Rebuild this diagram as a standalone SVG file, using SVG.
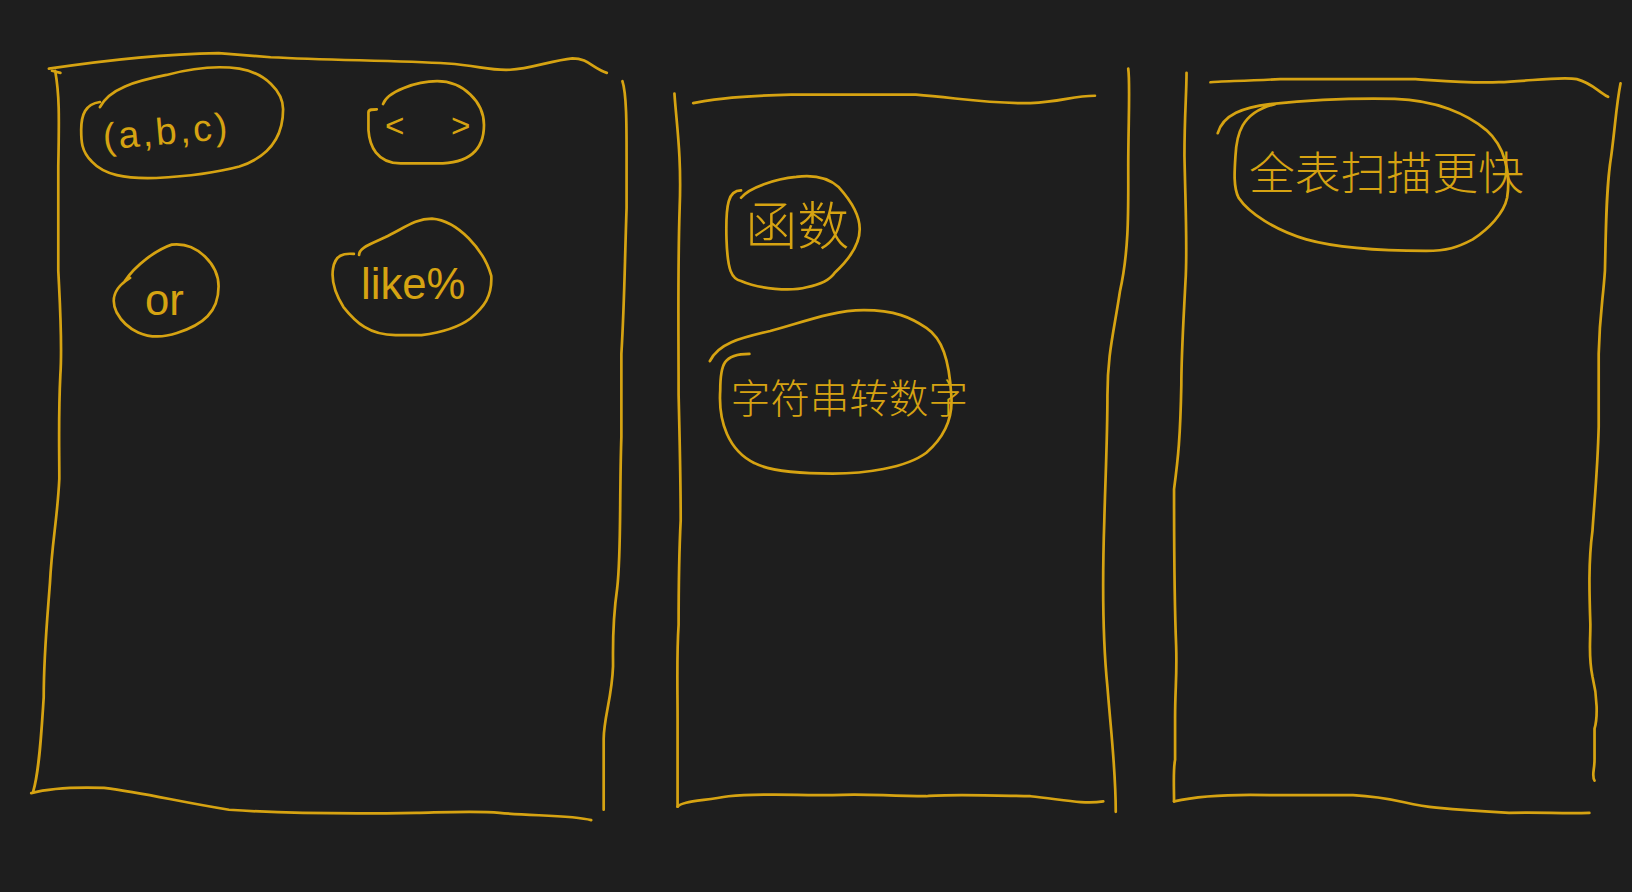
<svg xmlns="http://www.w3.org/2000/svg" width="1632" height="892" viewBox="0 0 1632 892">
<style>
.s{fill:none;stroke:#d6a312;stroke-width:2.6;stroke-linecap:round;stroke-linejoin:round}
.t{fill:#d6a312;font-family:"Liberation Sans","Noto Sans CJK SC",sans-serif;text-anchor:middle;dominant-baseline:central}
.c{font-family:"Noto Sans CJK SC","Noto Sans CJK JP",sans-serif;font-weight:300}
</style>
<rect width="1632" height="892" fill="#1e1e1e"/>
<g transform="scale(1.04082)">
<g id="frames">
<g id="col1">
<path class="s" d="M47,66 C100,58 150,52 210,51 L260,55 C320,58 380,58 430,61 C460,63 470,68 490,67 C510,66 530,58 550,56 C565,56 570,66 583,70"/>
<path class="s" d="M50,68 L58,70 M53,68 C57,90 57,110 56,160 L56,260 C58,300 60,330 58,360 C56,400 57,430 57,460 C55,500 50,520 48,560 C45,600 42,630 42,670 C40,700 38,740 32,760"/>
<path class="s" d="M30,762 C45,758 70,756 100,757 C140,762 170,770 220,778 C280,782 340,782 400,781 C440,780 460,779 480,781 C510,784 550,783 568,788"/>
<path class="s" d="M598,78 C602,90 602,120 602,150 L602,200 C600,260 600,290 597,340 L597,420 C595,480 597,530 593,565 C588,600 589,620 589,640 C588,670 580,690 580,710 L580,778"/>
</g>
<g id="col2">
<path class="s" d="M666,99 C690,95 710,92 760,91 L880,91 C920,94 950,100 990,99 C1020,98 1030,92 1052,92"/>
<path class="s" d="M648,90 C650,120 655,150 653,200 C651,260 652,320 652,380 C653,420 654,460 654,500 C652,540 652,570 652,600 C650,630 651,660 651,690 L651,775"/>
<path class="s" d="M651,775 C655,770 670,770 700,765 C730,762 760,764 800,764 C830,762 850,765 890,765 C910,763 940,764 990,765 C1020,768 1040,773 1060,770"/>
<path class="s" d="M1084,66 C1086,80 1084,120 1084,160 C1084,200 1085,240 1076,280 C1070,320 1064,340 1064,380 C1064,420 1062,460 1061,500 C1059,560 1060,620 1064,660 C1068,710 1072,740 1072,780"/>
</g>
<g id="col3">
<path class="s" d="M1163,79 C1170,78 1190,78 1230,76 L1360,76 C1390,78 1410,80 1440,79 C1470,78 1500,73 1515,76 C1530,80 1535,88 1545,93"/>
<path class="s" d="M1140,70 C1140,90 1138,110 1138,150 C1139,200 1141,240 1139,270 C1137,310 1135,340 1135,370 C1134,420 1132,440 1128,470 C1128,520 1128,570 1130,620 C1131,650 1129,660 1129,690 L1129,730 C1127,740 1128,755 1128,770"/>
<path class="s" d="M1128,770 C1150,765 1180,763 1220,764 L1300,764 C1340,766 1350,773 1380,776 C1410,779 1430,780 1450,781 C1480,780 1500,782 1527,781"/>
<path class="s" d="M1557,80 C1553,100 1552,120 1548,150 C1543,180 1543,220 1542,260 C1540,290 1537,300 1536,340 L1536,410 C1535,450 1532,480 1530,510 C1526,540 1527,570 1528,600 C1528,620 1526,630 1530,650 C1535,670 1535,690 1532,700 L1532,730 C1532,740 1529,745 1532,750"/>
</g>
</g>
<g id="n-abc">
<path class="s" d="M96,103 C105,85 130,78 160,72 C190,64 210,63 230,66 C255,70 272,88 272,105 C272,130 260,150 230,160 C200,168 170,170 150,171 C120,172 100,168 88,155 C78,145 78,135 78,125 C78,110 82,100 96,98"/>
<text class="t" x="160" y="126" font-size="36" letter-spacing="3" transform="rotate(-5 160 126)">(a,b,c)</text>
</g>
<g id="n-ne">
<path class="s" d="M368,100 C372,88 400,78 420,78 C445,78 465,98 465,120 C465,145 450,157 420,157 L385,157 C362,157 355,140 354,125 L354,108 C354,105 358,105 362,105"/>
<text class="t" x="420" y="121" font-size="32" letter-spacing="18">&lt; &gt;</text>
</g>
<g id="n-or">
<path class="s" d="M120,270 C130,255 150,240 165,235 C190,232 210,255 210,275 C210,300 195,312 170,320 C140,330 120,315 112,300 C105,285 112,275 125,267"/>
<text class="t" x="158" y="288" font-size="42">or</text>
</g>
<g id="n-like">
<path class="s" d="M345,245 C345,238 355,235 370,228 C390,218 400,210 415,210 C440,212 465,240 472,265 C473,285 465,295 452,306 C440,315 420,320 405,322 L380,322 C355,322 342,310 330,295 C322,282 318,270 320,258 C322,245 330,243 340,244"/>
<text class="t" x="397" y="272" font-size="42">like%</text>
</g>
<g id="n-func">
<path class="s" d="M712,183 C700,183 697,195 698,230 C699,260 703,268 712,270 C730,278 760,280 775,276 C790,273 798,268 802,262 C815,250 826,235 826,220 C826,205 815,190 806,180 C795,170 780,168 765,170 C745,172 720,180 712,190"/>
<text class="t c" x="766" y="214" font-size="50">函数</text>
</g>
<g id="n-str">
<path class="s" d="M682,347 C690,330 710,325 740,318 C770,310 800,298 830,298 C860,298 875,305 890,315 C905,325 912,345 914,380 C916,405 905,422 890,435 C870,450 830,455 800,455 C770,455 740,453 725,445 C700,433 690,405 692,375 C692,350 695,340 720,340"/>
<text class="t c" x="816" y="380" font-size="38">字符串转数字</text>
</g>
<g id="n-scan">
<path class="s" d="M1170,128 C1175,110 1195,103 1220,100 C1260,96 1300,94 1340,95 C1380,96 1410,110 1428,125 C1445,140 1452,165 1448,190 C1445,205 1430,220 1415,230 C1400,238 1390,241 1370,241 C1320,241 1280,237 1255,230 C1225,221 1200,205 1190,190 C1185,180 1186,165 1187,150 C1188,130 1192,108 1225,100"/>
<text class="t c" x="1332" y="163" font-size="44">全表扫描更快</text>
</g>
</g>
</svg>
